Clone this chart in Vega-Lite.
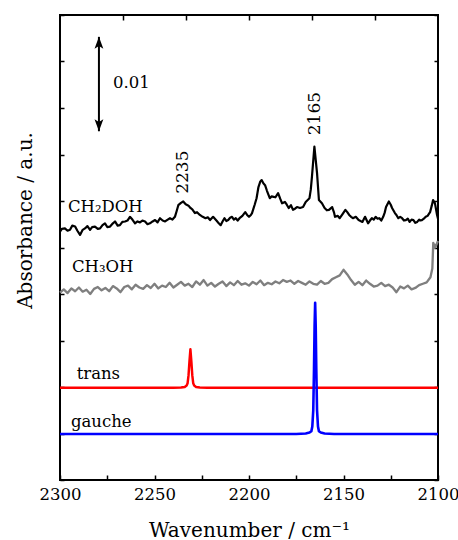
{
  "$schema": "https://vega.github.io/schema/vega-lite/v6.json",
  "width": 378,
  "height": 465,
  "autosize": {"type": "none"},
  "padding": {"left": 60, "top": 15, "right": 20, "bottom": 60},
  "config": {
    "view": {"stroke": "black", "strokeWidth": 2},
    "font": "DejaVu Serif",
    "axis": {
      "labelFont": "DejaVu Serif",
      "titleFont": "DejaVu Serif",
      "labelFontSize": 16.5,
      "titleFontSize": 20,
      "titleFontWeight": "normal",
      "labelColor": "black",
      "titleColor": "black",
      "tickColor": "black",
      "tickWidth": 1.5,
      "grid": false,
      "domain": false
    }
  },
  "datasets": {
    "spectra": [
      {"s":"CH2DOH","w":2300,"u":5.34},{"s":"CH2DOH","w":2299,"u":5.40},{"s":"CH2DOH","w":2297.4,"u":5.41},{"s":"CH2DOH","w":2296,"u":5.36},{"s":"CH2DOH","w":2294.7,"u":5.38},{"s":"CH2DOH","w":2293.5,"u":5.47},{"s":"CH2DOH","w":2292,"u":5.45},{"s":"CH2DOH","w":2290.8,"u":5.36},{"s":"CH2DOH","w":2289.4,"u":5.27},{"s":"CH2DOH","w":2288,"u":5.38},{"s":"CH2DOH","w":2286.8,"u":5.41},{"s":"CH2DOH","w":2285.5,"u":5.46},{"s":"CH2DOH","w":2284.1,"u":5.38},{"s":"CH2DOH","w":2283,"u":5.44},{"s":"CH2DOH","w":2281.5,"u":5.45},{"s":"CH2DOH","w":2280,"u":5.40},{"s":"CH2DOH","w":2278.8,"u":5.41},{"s":"CH2DOH","w":2277.5,"u":5.48},{"s":"CH2DOH","w":2276.2,"u":5.52},{"s":"CH2DOH","w":2275,"u":5.44},{"s":"CH2DOH","w":2273.5,"u":5.45},{"s":"CH2DOH","w":2272,"u":5.52},{"s":"CH2DOH","w":2270.9,"u":5.56},{"s":"CH2DOH","w":2269.5,"u":5.47},{"s":"CH2DOH","w":2268.3,"u":5.48},{"s":"CH2DOH","w":2267,"u":5.55},{"s":"CH2DOH","w":2265.6,"u":5.56},{"s":"CH2DOH","w":2264.3,"u":5.58},{"s":"CH2DOH","w":2263,"u":5.66},{"s":"CH2DOH","w":2261.7,"u":5.60},{"s":"CH2DOH","w":2260.3,"u":5.52},{"s":"CH2DOH","w":2259,"u":5.56},{"s":"CH2DOH","w":2257.7,"u":5.54},{"s":"CH2DOH","w":2256.4,"u":5.58},{"s":"CH2DOH","w":2255,"u":5.56},{"s":"CH2DOH","w":2253.7,"u":5.50},{"s":"CH2DOH","w":2252.4,"u":5.52},{"s":"CH2DOH","w":2251,"u":5.56},{"s":"CH2DOH","w":2249.7,"u":5.59},{"s":"CH2DOH","w":2248.4,"u":5.54},{"s":"CH2DOH","w":2247.1,"u":5.63},{"s":"CH2DOH","w":2245.7,"u":5.58},{"s":"CH2DOH","w":2244.4,"u":5.56},{"s":"CH2DOH","w":2243,"u":5.60},{"s":"CH2DOH","w":2241.8,"u":5.63},{"s":"CH2DOH","w":2240.5,"u":5.60},{"s":"CH2DOH","w":2239.2,"u":5.66},{"s":"CH2DOH","w":2238.3,"u":5.78},{"s":"CH2DOH","w":2237.4,"u":5.91},{"s":"CH2DOH","w":2236,"u":5.96},{"s":"CH2DOH","w":2234.8,"u":5.99},{"s":"CH2DOH","w":2233.5,"u":5.93},{"s":"CH2DOH","w":2232,"u":5.90},{"s":"CH2DOH","w":2231,"u":5.85},{"s":"CH2DOH","w":2230,"u":5.82},{"s":"CH2DOH","w":2228.6,"u":5.74},{"s":"CH2DOH","w":2227.5,"u":5.76},{"s":"CH2DOH","w":2226,"u":5.70},{"s":"CH2DOH","w":2224.5,"u":5.66},{"s":"CH2DOH","w":2223,"u":5.63},{"s":"CH2DOH","w":2221.8,"u":5.65},{"s":"CH2DOH","w":2220.6,"u":5.59},{"s":"CH2DOH","w":2219,"u":5.66},{"s":"CH2DOH","w":2217,"u":5.57},{"s":"CH2DOH","w":2216,"u":5.52},{"s":"CH2DOH","w":2215,"u":5.48},{"s":"CH2DOH","w":2214,"u":5.56},{"s":"CH2DOH","w":2213,"u":5.63},{"s":"CH2DOH","w":2212,"u":5.57},{"s":"CH2DOH","w":2211,"u":5.59},{"s":"CH2DOH","w":2210,"u":5.64},{"s":"CH2DOH","w":2209,"u":5.66},{"s":"CH2DOH","w":2208,"u":5.60},{"s":"CH2DOH","w":2207,"u":5.63},{"s":"CH2DOH","w":2206,"u":5.58},{"s":"CH2DOH","w":2205,"u":5.63},{"s":"CH2DOH","w":2203.5,"u":5.68},{"s":"CH2DOH","w":2202,"u":5.76},{"s":"CH2DOH","w":2201,"u":5.70},{"s":"CH2DOH","w":2200,"u":5.66},{"s":"CH2DOH","w":2199,"u":5.70},{"s":"CH2DOH","w":2198.4,"u":5.74},{"s":"CH2DOH","w":2197,"u":5.92},{"s":"CH2DOH","w":2196,"u":6.06},{"s":"CH2DOH","w":2195,"u":6.30},{"s":"CH2DOH","w":2194,"u":6.42},{"s":"CH2DOH","w":2193.3,"u":6.45},{"s":"CH2DOH","w":2192.4,"u":6.38},{"s":"CH2DOH","w":2191.5,"u":6.34},{"s":"CH2DOH","w":2190.5,"u":6.22},{"s":"CH2DOH","w":2189,"u":6.06},{"s":"CH2DOH","w":2188,"u":6.10},{"s":"CH2DOH","w":2187,"u":6.09},{"s":"CH2DOH","w":2186,"u":6.08},{"s":"CH2DOH","w":2184.6,"u":6.17},{"s":"CH2DOH","w":2183.5,"u":6.05},{"s":"CH2DOH","w":2182.5,"u":5.95},{"s":"CH2DOH","w":2181,"u":5.98},{"s":"CH2DOH","w":2180,"u":5.92},{"s":"CH2DOH","w":2179,"u":5.85},{"s":"CH2DOH","w":2177.8,"u":5.91},{"s":"CH2DOH","w":2176.7,"u":5.81},{"s":"CH2DOH","w":2175.5,"u":5.84},{"s":"CH2DOH","w":2174.6,"u":5.87},{"s":"CH2DOH","w":2173,"u":5.85},{"s":"CH2DOH","w":2171.4,"u":5.87},{"s":"CH2DOH","w":2170,"u":5.98},{"s":"CH2DOH","w":2168,"u":6.06},{"s":"CH2DOH","w":2167.3,"u":6.25},{"s":"CH2DOH","w":2166.7,"u":6.52},{"s":"CH2DOH","w":2165.4,"u":7.17},{"s":"CH2DOH","w":2164,"u":6.60},{"s":"CH2DOH","w":2163,"u":6.02},{"s":"CH2DOH","w":2161.4,"u":5.95},{"s":"CH2DOH","w":2160,"u":5.85},{"s":"CH2DOH","w":2158.8,"u":5.80},{"s":"CH2DOH","w":2157.7,"u":5.81},{"s":"CH2DOH","w":2156,"u":5.87},{"s":"CH2DOH","w":2155,"u":5.75},{"s":"CH2DOH","w":2154.5,"u":5.66},{"s":"CH2DOH","w":2153,"u":5.68},{"s":"CH2DOH","w":2152,"u":5.63},{"s":"CH2DOH","w":2150.5,"u":5.72},{"s":"CH2DOH","w":2149,"u":5.81},{"s":"CH2DOH","w":2148,"u":5.76},{"s":"CH2DOH","w":2147,"u":5.70},{"s":"CH2DOH","w":2146,"u":5.66},{"s":"CH2DOH","w":2145,"u":5.63},{"s":"CH2DOH","w":2143.5,"u":5.66},{"s":"CH2DOH","w":2142,"u":5.59},{"s":"CH2DOH","w":2141,"u":5.57},{"s":"CH2DOH","w":2140,"u":5.55},{"s":"CH2DOH","w":2138.6,"u":5.66},{"s":"CH2DOH","w":2137,"u":5.52},{"s":"CH2DOH","w":2136,"u":5.58},{"s":"CH2DOH","w":2135,"u":5.63},{"s":"CH2DOH","w":2134,"u":5.60},{"s":"CH2DOH","w":2133,"u":5.66},{"s":"CH2DOH","w":2132,"u":5.62},{"s":"CH2DOH","w":2131,"u":5.63},{"s":"CH2DOH","w":2130,"u":5.58},{"s":"CH2DOH","w":2129,"u":5.66},{"s":"CH2DOH","w":2128.2,"u":5.75},{"s":"CH2DOH","w":2127.5,"u":5.87},{"s":"CH2DOH","w":2126,"u":5.99},{"s":"CH2DOH","w":2125,"u":5.92},{"s":"CH2DOH","w":2124.3,"u":5.85},{"s":"CH2DOH","w":2122.8,"u":5.74},{"s":"CH2DOH","w":2122,"u":5.70},{"s":"CH2DOH","w":2121,"u":5.63},{"s":"CH2DOH","w":2120,"u":5.66},{"s":"CH2DOH","w":2119,"u":5.63},{"s":"CH2DOH","w":2118,"u":5.58},{"s":"CH2DOH","w":2117,"u":5.59},{"s":"CH2DOH","w":2116,"u":5.62},{"s":"CH2DOH","w":2115,"u":5.55},{"s":"CH2DOH","w":2114,"u":5.60},{"s":"CH2DOH","w":2113,"u":5.59},{"s":"CH2DOH","w":2112,"u":5.53},{"s":"CH2DOH","w":2111,"u":5.55},{"s":"CH2DOH","w":2110,"u":5.60},{"s":"CH2DOH","w":2109.5,"u":5.58},{"s":"CH2DOH","w":2108.5,"u":5.59},{"s":"CH2DOH","w":2107.5,"u":5.62},{"s":"CH2DOH","w":2106.5,"u":5.66},{"s":"CH2DOH","w":2105.5,"u":5.68},{"s":"CH2DOH","w":2104.2,"u":5.76},{"s":"CH2DOH","w":2103.3,"u":5.90},{"s":"CH2DOH","w":2102.6,"u":6.02},{"s":"CH2DOH","w":2101.6,"u":5.95},{"s":"CH2DOH","w":2100.5,"u":5.70},{"s":"CH2DOH","w":2100,"u":5.62},
      {"s":"CH3OH","w":2300,"u":4.03},{"s":"CH3OH","w":2298,"u":4.10},{"s":"CH3OH","w":2296,"u":4.02},{"s":"CH3OH","w":2294,"u":4.12},{"s":"CH3OH","w":2292,"u":4.06},{"s":"CH3OH","w":2290,"u":4.14},{"s":"CH3OH","w":2288,"u":4.05},{"s":"CH3OH","w":2286,"u":4.09},{"s":"CH3OH","w":2284,"u":4.00},{"s":"CH3OH","w":2282,"u":4.11},{"s":"CH3OH","w":2280,"u":4.15},{"s":"CH3OH","w":2278,"u":4.08},{"s":"CH3OH","w":2276,"u":4.13},{"s":"CH3OH","w":2274,"u":4.06},{"s":"CH3OH","w":2272,"u":4.17},{"s":"CH3OH","w":2270,"u":4.12},{"s":"CH3OH","w":2268,"u":4.04},{"s":"CH3OH","w":2266,"u":4.15},{"s":"CH3OH","w":2264,"u":4.18},{"s":"CH3OH","w":2262,"u":4.10},{"s":"CH3OH","w":2260,"u":4.20},{"s":"CH3OH","w":2258,"u":4.14},{"s":"CH3OH","w":2256,"u":4.11},{"s":"CH3OH","w":2254,"u":4.19},{"s":"CH3OH","w":2252,"u":4.13},{"s":"CH3OH","w":2250,"u":4.22},{"s":"CH3OH","w":2248,"u":4.12},{"s":"CH3OH","w":2246,"u":4.18},{"s":"CH3OH","w":2244,"u":4.15},{"s":"CH3OH","w":2242,"u":4.24},{"s":"CH3OH","w":2240,"u":4.14},{"s":"CH3OH","w":2238,"u":4.20},{"s":"CH3OH","w":2236,"u":4.26},{"s":"CH3OH","w":2234,"u":4.18},{"s":"CH3OH","w":2232,"u":4.22},{"s":"CH3OH","w":2230,"u":4.15},{"s":"CH3OH","w":2228,"u":4.27},{"s":"CH3OH","w":2226,"u":4.20},{"s":"CH3OH","w":2224,"u":4.30},{"s":"CH3OH","w":2222,"u":4.18},{"s":"CH3OH","w":2220,"u":4.24},{"s":"CH3OH","w":2218,"u":4.16},{"s":"CH3OH","w":2216,"u":4.22},{"s":"CH3OH","w":2214,"u":4.27},{"s":"CH3OH","w":2212,"u":4.17},{"s":"CH3OH","w":2210,"u":4.25},{"s":"CH3OH","w":2208,"u":4.19},{"s":"CH3OH","w":2206,"u":4.28},{"s":"CH3OH","w":2204,"u":4.20},{"s":"CH3OH","w":2202,"u":4.23},{"s":"CH3OH","w":2200,"u":4.18},{"s":"CH3OH","w":2198,"u":4.26},{"s":"CH3OH","w":2196,"u":4.21},{"s":"CH3OH","w":2194,"u":4.29},{"s":"CH3OH","w":2192,"u":4.19},{"s":"CH3OH","w":2190,"u":4.24},{"s":"CH3OH","w":2188,"u":4.21},{"s":"CH3OH","w":2186,"u":4.27},{"s":"CH3OH","w":2184,"u":4.23},{"s":"CH3OH","w":2182,"u":4.30},{"s":"CH3OH","w":2180,"u":4.26},{"s":"CH3OH","w":2178,"u":4.29},{"s":"CH3OH","w":2176,"u":4.22},{"s":"CH3OH","w":2174,"u":4.28},{"s":"CH3OH","w":2172,"u":4.24},{"s":"CH3OH","w":2170,"u":4.20},{"s":"CH3OH","w":2168,"u":4.27},{"s":"CH3OH","w":2166,"u":4.22},{"s":"CH3OH","w":2164,"u":4.20},{"s":"CH3OH","w":2162,"u":4.28},{"s":"CH3OH","w":2160,"u":4.22},{"s":"CH3OH","w":2158,"u":4.24},{"s":"CH3OH","w":2156,"u":4.32},{"s":"CH3OH","w":2154,"u":4.36},{"s":"CH3OH","w":2152,"u":4.40},{"s":"CH3OH","w":2150,"u":4.52},{"s":"CH3OH","w":2148,"u":4.42},{"s":"CH3OH","w":2146,"u":4.30},{"s":"CH3OH","w":2144,"u":4.20},{"s":"CH3OH","w":2142,"u":4.26},{"s":"CH3OH","w":2140,"u":4.19},{"s":"CH3OH","w":2138,"u":4.29},{"s":"CH3OH","w":2136,"u":4.22},{"s":"CH3OH","w":2134,"u":4.16},{"s":"CH3OH","w":2132,"u":4.18},{"s":"CH3OH","w":2130,"u":4.24},{"s":"CH3OH","w":2128,"u":4.17},{"s":"CH3OH","w":2126,"u":4.20},{"s":"CH3OH","w":2124,"u":4.14},{"s":"CH3OH","w":2122,"u":4.04},{"s":"CH3OH","w":2120,"u":4.16},{"s":"CH3OH","w":2118,"u":4.12},{"s":"CH3OH","w":2116,"u":4.18},{"s":"CH3OH","w":2114,"u":4.10},{"s":"CH3OH","w":2112,"u":4.13},{"s":"CH3OH","w":2110,"u":4.19},{"s":"CH3OH","w":2108,"u":4.22},{"s":"CH3OH","w":2106,"u":4.25},{"s":"CH3OH","w":2104,"u":4.36},{"s":"CH3OH","w":2103,"u":4.55},{"s":"CH3OH","w":2102.5,"u":5.10},{"s":"CH3OH","w":2101.5,"u":5.00},{"s":"CH3OH","w":2100,"u":5.14},
      {"s":"trans","w":2300,"u":1.985},{"s":"trans","w":2240,"u":1.985},{"s":"trans","w":2236,"u":1.99},{"s":"trans","w":2234,"u":2.0},{"s":"trans","w":2233,"u":2.03},{"s":"trans","w":2232.5,"u":2.08},{"s":"trans","w":2232,"u":2.25},{"s":"trans","w":2231.5,"u":2.55},{"s":"trans","w":2231,"u":2.81},{"s":"trans","w":2230.5,"u":2.55},{"s":"trans","w":2230,"u":2.25},{"s":"trans","w":2229.5,"u":2.08},{"s":"trans","w":2229,"u":2.03},{"s":"trans","w":2228,"u":2.0},{"s":"trans","w":2226,"u":1.99},{"s":"trans","w":2222,"u":1.985},{"s":"trans","w":2100,"u":1.985},
      {"s":"gauche","w":2300,"u":0.99},{"s":"gauche","w":2175,"u":0.99},{"s":"gauche","w":2170,"u":1.0},{"s":"gauche","w":2168,"u":1.02},{"s":"gauche","w":2167,"u":1.05},{"s":"gauche","w":2166.5,"u":1.15},{"s":"gauche","w":2166,"u":1.5},{"s":"gauche","w":2165.6,"u":2.4},{"s":"gauche","w":2165.3,"u":3.3},{"s":"gauche","w":2165,"u":3.81},{"s":"gauche","w":2164.7,"u":3.3},{"s":"gauche","w":2164.4,"u":2.4},{"s":"gauche","w":2164,"u":1.5},{"s":"gauche","w":2163.5,"u":1.15},{"s":"gauche","w":2163,"u":1.05},{"s":"gauche","w":2162,"u":1.02},{"s":"gauche","w":2160,"u":1.0},{"s":"gauche","w":2155,"u":0.99},{"s":"gauche","w":2100,"u":0.99}
    ],
    "bar": [{"w": 2279.4, "u1": 7.5, "u2": 9.53}],
    "heads": [{"w": 2279.4, "u": 9.53, "dir": "up"}, {"w": 2279.4, "u": 7.5, "dir": "down"}],
    "labels": [
      {"w": 2295.8, "u": 5.77, "t": "CH₂DOH"},
      {"w": 2293.7, "u": 4.48, "t": "CH₃OH"},
      {"w": 2291.2, "u": 2.17, "t": "trans"},
      {"w": 2294.2, "u": 1.13, "t": "gauche"},
      {"w": 2272.0, "u": 8.43, "t": "0.01"}
    ],
    "peaks": [
      {"w": 2234.9, "u": 6.62, "t": "2235"},
      {"w": 2165.1, "u": 7.88, "t": "2165"}
    ]
  },
  "layer": [
    {
      "data": {"name": "spectra"},
      "mark": {"type": "line", "strokeJoin": "round"},
      "encoding": {
        "x": {
          "field": "w", "type": "quantitative",
          "scale": {"domain": [2100, 2300], "reverse": true, "nice": false, "zero": false},
          "axis": {
            "orient": "bottom",
            "values": [2300, 2275, 2250, 2225, 2200, 2175, 2150, 2125, 2100],
            "format": "d",
            "labelExpr": "datum.value % 50 === 0 ? datum.label : ''",
            "tickSize": -5,
            "labelPadding": 11,
            "labelFlush": false,
            "encode": {"ticks": {"update": {"y2": {"signal": "datum.value % 50 === 0 ? -10 : -5"}}}},
            "title": "Wavenumber / cm⁻¹",
            "titleBaseline": "alphabetic",
            "titleY": 56
          }
        },
        "y": {
          "field": "u", "type": "quantitative",
          "scale": {"domain": [0, 10], "nice": false, "zero": false},
          "axis": {
            "orient": "left",
            "values": [0, 1, 2, 3, 4, 5, 6, 7, 8, 9, 10],
            "labels": false,
            "tickSize": -4,
            "title": "Absorbance / a.u.",
            "titleBaseline": "middle",
            "titleX": -35,
            "titleY": 205
          }
        },
        "color": {
          "field": "s", "type": "nominal",
          "scale": {"domain": ["CH2DOH", "CH3OH", "trans", "gauche"], "range": ["#000000", "#7f7f7f", "#ff0000", "#0000ff"]},
          "legend": null
        },
        "strokeWidth": {
          "field": "s", "type": "nominal",
          "scale": {"domain": ["CH2DOH", "CH3OH", "trans", "gauche"], "range": [2.2, 2.6, 2, 2]},
          "legend": null
        }
      }
    },
    {
      "data": {"name": "labels"},
      "mark": {"type": "text", "align": "left", "baseline": "alphabetic", "font": "DejaVu Serif", "fontSize": 16.5, "color": "black"},
      "encoding": {
        "x": {
          "field": "w", "type": "quantitative",
          "axis": {"orient": "top", "values": [2266.667, 2233.333, 2200, 2166.667, 2133.333], "labels": false, "tickSize": -5, "title": null}
        },
        "y": {
          "field": "u", "type": "quantitative",
          "axis": {"orient": "right", "values": [0, 1, 2, 3, 4, 5, 6, 7, 8, 9, 10], "labels": false, "tickSize": -4, "title": null}
        },
        "text": {"field": "t"}
      }
    },
    {
      "data": {"name": "peaks"},
      "mark": {"type": "text", "align": "center", "baseline": "middle", "angle": 270, "font": "DejaVu Serif", "fontSize": 17, "color": "black"},
      "encoding": {
        "x": {"field": "w", "type": "quantitative", "axis": null},
        "y": {"field": "u", "type": "quantitative", "axis": null},
        "text": {"field": "t"}
      }
    },
    {
      "data": {"name": "bar"},
      "mark": {"type": "rule", "color": "black", "strokeWidth": 2},
      "encoding": {
        "x": {"field": "w", "type": "quantitative", "axis": null},
        "y": {"field": "u1", "type": "quantitative", "axis": null},
        "y2": {"field": "u2"}
      }
    },
    {
      "data": {"name": "heads"},
      "mark": {"type": "point", "filled": true, "size": 256, "color": "black", "opacity": 1, "strokeWidth": 0},
      "encoding": {
        "x": {"field": "w", "type": "quantitative", "axis": null},
        "y": {"field": "u", "type": "quantitative", "axis": null},
        "shape": {
          "field": "dir", "type": "nominal",
          "scale": {"domain": ["up", "down"], "range": ["M0,0L0.55,1.5L0,1.15L-0.55,1.5Z", "M0,0L0.55,-1.5L0,-1.15L-0.55,-1.5Z"]},
          "legend": null
        }
      }
    }
  ],
  "resolve": {"axis": {"x": "independent", "y": "independent"}}
}
